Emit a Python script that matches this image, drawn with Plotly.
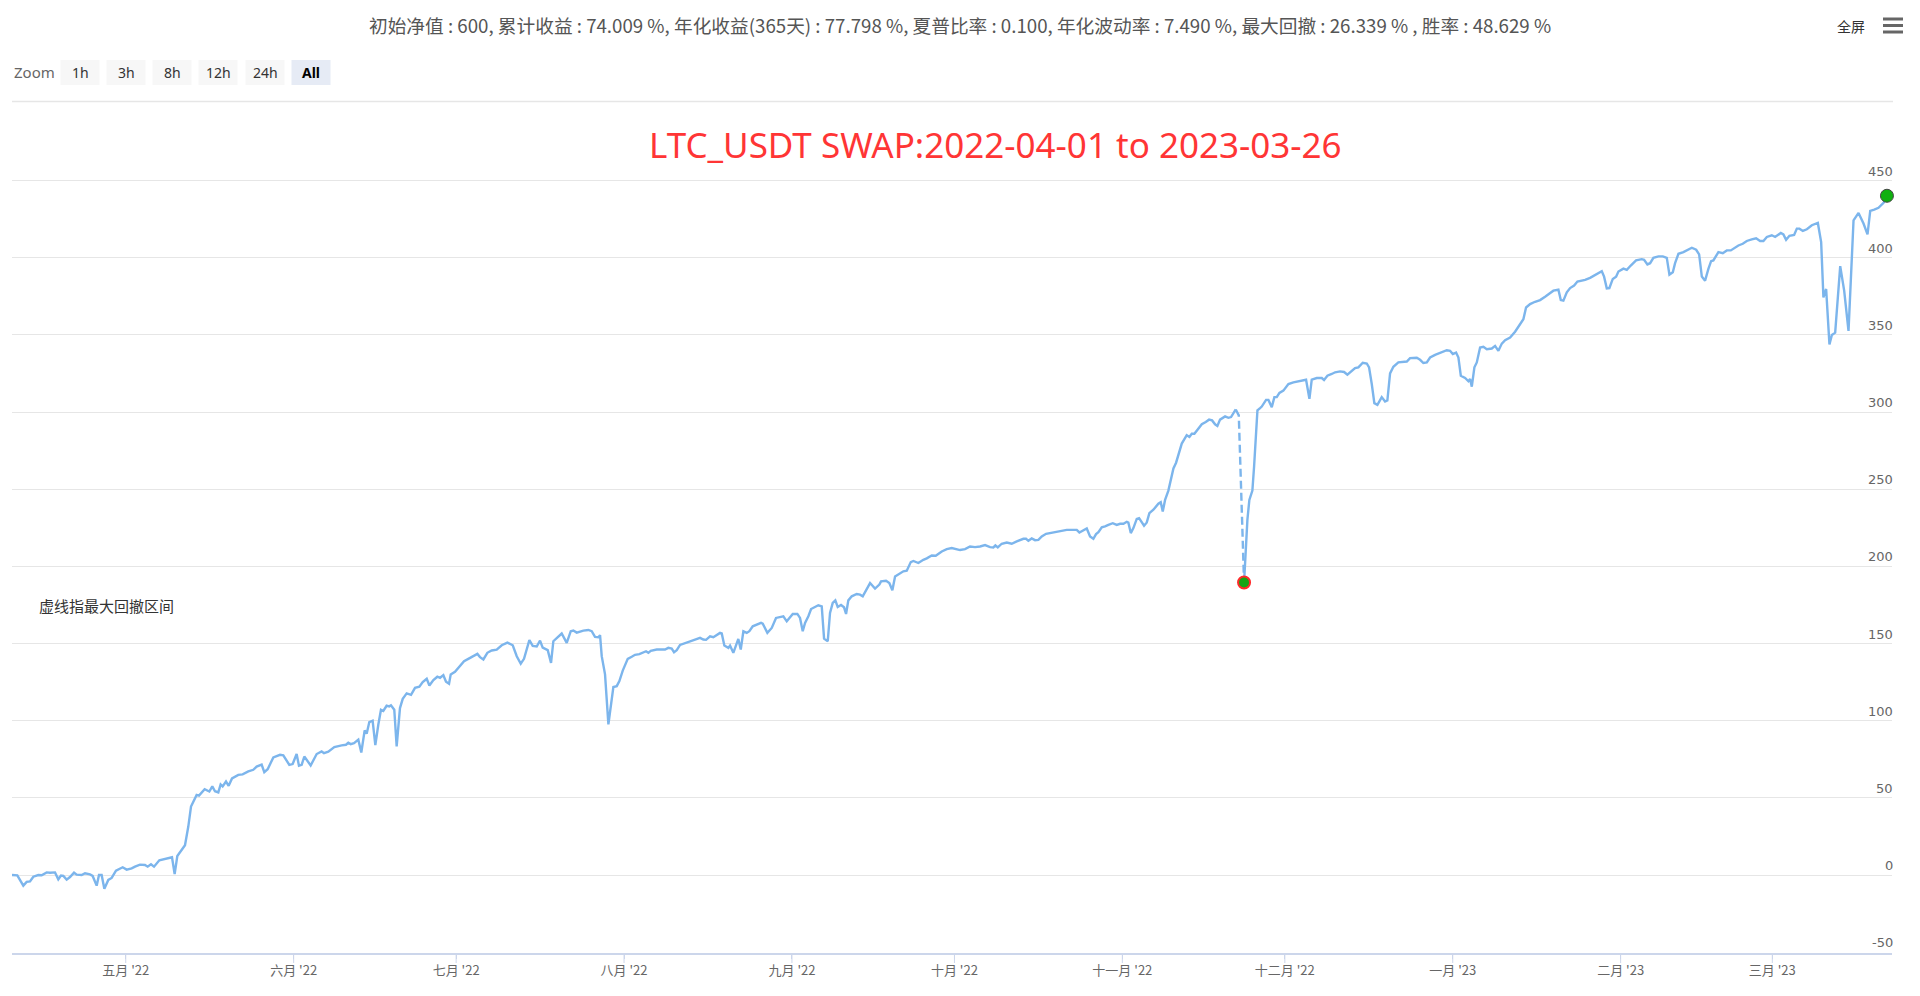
import numpy as np
import pandas as pd
import plotly.graph_objects as go

# ---------------- data ----------------
start_date = "2022-04-10"

day_offsets = [
    0.0, 0.98, 2.09, 2.71, 3.32, 3.94, 4.86, 5.48, 6.40, 7.02,
    7.94, 8.55, 9.05, 9.48, 10.09, 10.71, 11.45, 11.94, 12.86, 13.48,
    14.40, 14.89, 15.63, 16.06, 16.55, 17.05, 17.78, 18.40, 19.20, 20.43,
    21.17, 22.09, 22.71, 23.63, 24.55, 25.05, 25.66, 26.22, 27.20, 28.25,
    28.86, 29.54, 30.03, 30.52, 31.94, 32.55, 33.05, 34.09, 34.52, 35.57,
    36.43, 36.98, 37.48, 38.09, 38.52, 38.89, 39.51, 40.00, 40.62, 41.78,
    42.58, 43.63, 44.55, 45.17, 46.09, 46.58, 47.20, 48.25, 49.48, 50.09,
    51.20, 51.82, 52.55, 52.98, 53.48, 53.97, 55.14, 56.25, 57.17, 57.60,
    58.40, 59.51, 60.86, 61.66, 62.09, 62.52, 63.14, 63.94, 64.49, 65.11,
    65.48, 65.97, 66.58, 67.08, 67.63, 68.12, 68.55, 69.17, 69.66, 69.97,
    70.58, 71.02, 71.63,
    72.14, 72.87, 73.67, 74.41, 75.21, 75.83, 76.57, 77.06, 77.80, 78.53,
    79.03, 79.64, 80.13, 80.69, 81.00, 81.79, 82.47, 83.46, 84.25, 85.18,
    85.92, 86.41, 87.03, 87.76, 88.57, 89.49, 90.42, 91.46, 92.45, 93.19,
    93.93, 94.53, 95.52, 96.14, 96.88, 97.49, 97.98, 98.91, 99.52, 99.95,
    100.69, 101.49, 102.42, 103.16, 103.64, 104.26, 105.49, 106.41, 107.03, 107.64,
    108.26, 108.57, 108.88, 109.49, 110.11, 110.54, 111.03, 111.65, 112.14, 112.76,
    113.68, 114.42, 115.03, 115.83, 116.57, 117.06, 117.49, 117.93, 119.04, 120.57,
    121.18, 121.80, 122.23, 122.73, 123.34, 124.26, 124.87, 125.50, 126.11, 127.03,
    127.64, 128.14, 128.88, 129.49, 130.72, 131.04, 131.52, 132.26, 132.57, 133.18,
    134.10, 134.55, 135.03, 135.65, 136.14, 136.76, 137.37, 138.29,
    138.61, 139.46, 140.27, 141.06, 142.41, 143.04, 144.15, 145.00, 145.49, 145.99,
    146.42, 147.03, 147.53, 148.26, 148.87, 149.50, 149.93, 150.61, 151.03, 151.53,
    152.01, 152.45, 153.06, 153.62, 153.99, 154.41, 155.04, 155.96, 156.57, 157.07,
    157.68, 158.42, 159.34, 160.14, 160.45, 161.37, 161.98, 162.54, 163.04, 163.96,
    164.57, 165.20, 165.94, 166.42, 167.34, 168.26, 168.89, 169.81, 170.55, 171.66,
    172.58, 173.50, 174.43, 175.04, 175.96, 176.88, 177.81, 178.73, 179.65, 180.58,
    181.19, 181.56, 182.00, 182.73, 183.66, 184.58, 185.51, 186.73, 187.22, 187.65,
    188.27, 188.88, 189.50, 190.12, 190.92, 191.65, 192.58, 193.50, 194.74, 195.66,
    196.58, 197.07, 197.69, 198.43, 199.04, 199.65, 200.15, 200.58, 201.20, 201.81,
    202.42, 203.23, 203.97, 204.58, 205.20, 205.82, 206.11, 206.56, 207.04, 207.66,
    208.09,
    209.01, 209.51, 209.99, 210.73, 211.65, 212.09, 212.46, 212.89, 213.50, 214.43,
    214.92, 215.97, 216.89, 217.38, 217.82, 218.30, 218.74, 219.67, 220.40, 221.01,
    221.57, 222.12, 222.55, 223.04, 223.97, 224.58, 225.07, 225.94, 226.50, 227.47,
    227.84, 228.09, 228.45, 229.01, 229.32, 229.94, 230.43, 230.74, 231.54, 231.97,
    232.59, 233.07, 233.51, 234.00, 234.73, 235.66, 236.58, 237.50, 238.43, 238.92,
    239.54, 239.97, 240.90, 241.82, 242.24, 242.86, 243.66, 244.28, 245.20, 245.94,
    246.55, 247.18, 247.97, 248.58, 249.39, 250.13, 250.55, 251.05, 251.53, 252.09,
    252.89, 253.51, 253.93, 254.43, 255.04, 255.96, 256.89, 257.52, 258.12, 259.36,
    259.97, 260.58, 261.21, 261.82, 262.74, 263.66, 264.90, 265.51, 266.01, 266.62,
    267.05, 267.49, 268.28, 268.89, 269.20, 269.52, 270.00, 270.44, 271.05, 271.66,
    272.29, 273.21, 273.82, 274.43, 275.06, 275.67, 276.59, 277.51, 278.12,
    278.43, 279.04, 279.54, 280.28, 281.20, 282.13, 283.05, 283.97, 284.58, 285.51,
    285.95, 286.43, 287.06, 287.67, 288.41, 289.02, 289.83, 290.44, 291.36, 292.10,
    292.89, 293.52, 293.94, 294.44, 294.92, 295.55, 296.16, 296.59, 297.51, 298.14,
    298.87, 299.85, 300.90, 301.33, 301.94, 302.44, 303.05, 303.98, 304.79, 305.52,
    306.01, 306.63, 307.05, 307.67, 308.59, 309.22, 310.14, 310.94, 311.49, 311.99,
    312.59, 313.20, 313.70, 314.12, 315.05, 315.86, 316.60, 317.34, 317.82, 318.74,
    319.55, 320.29, 321.21, 322.01, 322.75, 323.36, 323.99, 324.91, 325.52, 326.57,
    327.05, 327.55, 328.16, 329.03, 329.53, 330.01, 330.64, 331.38, 332.30, 333.41,
    334.02, 334.44, 334.94, 335.55, 336.00, 336.61, 337.54, 338.27, 339.07, 340.00,
    340.92, 341.84, 342.58, 343.08, 343.82, 344.61, 345.54, 346.17,
]

profit = [
    0, -0.2, -6.9, -4.5, -4.1, -1.1, 0, -0.2, 1.7, 1.5,
    1.7, -2.8, -0.4, -0.6, -3.0, -1.3, 1.5, 0.2, 0, 1.1,
    0.4, -0.6, -6.9, 0, 0, -8.9, -3.2, -1.9, 2.8, 5.0,
    3.5, 4.3, 5.4, 6.7, 6.5, 5.4, 6.9, 5.4, 9.5, 10.4,
    11.3, 11.5, 0.6, 12.3, 19.3, 31.4, 44.4, 51.9, 51.5, 55.6,
    54.1, 57.4, 54.3, 53.5, 58.7, 57.4, 60.6, 57.8, 62.6, 64.9,
    65.2, 67.1, 68.2, 70.3, 71.6, 66.7, 68.6, 76.2, 77.9, 77.5,
    71.4, 71.9, 78.4, 70.8, 71.4, 76.8, 71.0, 78.4, 80.1, 79.0,
    79.9, 82.9, 84.0, 84.4, 85.7, 84.8, 85.5, 87.7, 79.4, 93.7,
    91.6, 99.1, 100.0, 84.2, 97.4, 107.1, 106.3, 109.7, 109.3, 110.0,
    107.1, 83.3, 108.2,
    114.2, 117.7, 116.8, 121.3, 122.0, 125.0, 127.2, 122.8, 126.3, 128.5,
    127.8, 129.5, 125.2, 123.9, 130.0, 131.7, 134.3, 138.6, 140.1, 141.8,
    143.3, 141.2, 139.7, 144.0, 145.5, 146.1, 148.9, 150.6, 148.9, 141.8,
    136.9, 140.1, 152.2, 148.5, 148.1, 151.9, 147.4, 145.7, 137.5, 151.5,
    154.1, 156.5, 150.4, 158.0, 158.4, 157.1, 158.4, 158.8, 158.0, 154.3,
    154.1, 155.4, 141.8, 130.0, 97.6, 109.5, 121.8, 122.4, 125.7, 132.5,
    140.1, 141.4, 142.7, 143.1, 144.0, 145.0, 144.0, 145.3, 146.1, 146.1,
    147.2, 146.8, 144.4, 145.7, 149.1, 150.4, 150.9, 151.7, 152.6, 153.7,
    152.6, 152.4, 154.7, 154.1, 156.9, 156.5, 148.7, 147.2, 148.7, 144.0,
    153.0, 146.1, 158.0, 156.9, 158.0, 161.2, 162.1, 163.4,
    162.9, 156.9, 160.1, 166.6, 167.7, 164.4, 169.2, 169.2, 166.6, 158.0,
    163.4, 167.7, 172.4, 173.5, 174.8, 174.1, 153.2, 151.5, 169.8, 176.3,
    178.0, 173.7, 175.0, 173.5, 169.2, 178.0, 180.6, 182.1, 181.7, 180.6,
    184.9, 189.2, 185.6, 188.2, 190.3, 190.7, 189.2, 184.5, 193.5, 195.3,
    196.8, 197.2, 202.8, 203.5, 202.2, 204.3, 205.2, 207.1, 206.9, 209.7,
    211.2, 211.9, 211.4, 210.6, 211.2, 212.9, 212.5, 212.9, 213.8, 212.5,
    212.3, 213.6, 212.3, 214.7, 215.5, 214.7, 216.2, 217.9, 217.9, 216.6,
    218.1, 217.0, 217.2, 219.4, 221.1, 221.6, 222.2, 222.6, 223.7, 223.7,
    223.7, 222.0, 223.3, 224.6, 219.4, 217.9, 220.9, 222.2, 225.4, 225.9,
    226.9, 228.0, 226.9, 227.6, 227.6, 228.9, 228.4, 221.6, 224.8, 230.8,
    231.3,
    226.4, 228.5, 234.5, 236.7, 240.6, 241.6, 235.6, 243.1, 249.1, 263.5,
    267.2, 279.6, 285.0, 283.9, 286.0, 286.0, 288.2, 292.1, 293.6, 295.1,
    294.6, 292.1, 291.0, 295.1, 297.2, 296.3, 296.8, 301.7, 297.9, 189.6,
    217.4, 230.3, 243.1, 249.1, 264.6, 301.1, 302.6, 303.6, 307.9, 307.9,
    303.2, 309.7, 309.7, 312.4, 313.9, 318.2, 319.3, 320.0, 320.4, 321.0,
    308.6, 321.0, 322.1, 322.1, 320.8, 323.6, 324.7, 325.8, 326.4, 326.0,
    324.2, 326.4, 328.5, 329.0, 332.0, 331.5, 329.0, 318.2, 305.8, 304.7,
    309.7, 306.9, 307.5, 325.1, 329.4, 332.2, 332.8, 332.8, 335.0, 335.2,
    333.9, 331.8, 332.2, 335.4, 337.1, 338.6, 340.1, 339.7, 337.6, 338.6,
    335.4, 323.6, 322.1, 320.0, 321.5, 316.5, 329.0, 332.2, 341.8, 342.3,
    340.8, 341.2, 342.9, 339.7, 344.4, 346.6, 348.3, 352.1, 355.2,
    356.5, 360.2, 367.8, 370.0, 371.5, 372.6, 374.8, 377.0, 378.7, 379.3,
    372.6, 372.2, 377.6, 380.4, 382.0, 384.6, 385.2, 385.7, 387.0, 388.5,
    390.0, 391.3, 387.8, 380.2, 380.4, 386.3, 387.8, 391.1, 393.0, 392.2,
    395.0, 398.3, 399.1, 398.7, 395.7, 396.5, 400.0, 400.9, 400.9, 400.0,
    389.1, 390.6, 396.5, 402.6, 403.7, 404.8, 406.5, 405.2, 402.2, 387.8,
    385.2, 392.8, 397.8, 398.3, 403.7, 403.0, 404.8, 404.8, 405.9, 408.0,
    409.1, 410.9, 412.0, 412.6, 410.9, 410.9, 413.5, 414.6, 413.5, 416.1,
    415.2, 411.7, 414.3, 414.8, 418.9, 418.9, 417.4, 418.5, 421.1, 422.6,
    410.2, 374.3, 379.8, 343.9, 350.0, 351.5, 394.6, 378.7, 352.6, 424.3,
    429.1, 422.2, 415.2, 430.4, 431.3, 432.4, 435.7, 440.2,
]

month_ticks = ["2022-05-01", "2022-06-01", "2022-07-01", "2022-08-01", "2022-09-01",
               "2022-10-01", "2022-11-01", "2022-12-01", "2023-01-01", "2023-02-01",
               "2023-03-01"]
month_labels = ["五月 '22", "六月 '22", "七月 '22", "八月 '22", "九月 '22", "十月 '22",
                "十一月 '22", "十二月 '22", "一月 '23", "二月 '23", "三月 '23"]
y_ticks = [-50, 0, 50, 100, 150, 200, 250, 300, 350, 400, 450]

stats_text = ("初始净值 : 600, 累计收益 : 74.009 %, 年化收益(365天) : 77.798 %, "
              "夏普比率 : 0.100, 年化波动率 : 7.490 %, 最大回撤 : 26.339 % , 胜率 : 48.629 %")
title_text = "LTC_USDT SWAP:2022-04-01 to 2023-03-26"
note_text = "虚线指最大回撤区间"
zoom_buttons = ["1h", "3h", "8h", "12h", "24h", "All"]
selected_button = "All"

# ---------------- derived ----------------
dates = pd.Timestamp(start_date) + pd.to_timedelta(day_offsets, unit="D")
vals = np.array(profit, dtype=float)
run_max = np.maximum.accumulate(vals)
trough = int(np.argmax(run_max - vals))
peak = int(np.argmax(vals[:trough + 1]))

# layout geometry (pixels)
W, H = 1920, 996
PL, PR, PT, PB = 12, 1892, 179, 953
x_range = [pd.Timestamp(start_date), pd.Timestamp(start_date) + pd.Timedelta(days=347.1)]
y_range = [-50.55, 451.07]


def px(x):
    return (x - PL) / (PR - PL)


def py(y):
    return (PB - y) / (PB - PT)


LINE = "#7cb5ec"
LW = 2.4
fig = go.Figure()
fig.add_trace(go.Scatter(x=dates[:peak + 1], y=vals[:peak + 1], mode="lines",
                         line=dict(color=LINE, width=LW), hoverinfo="skip"))
fig.add_trace(go.Scatter(x=dates[peak:trough + 1], y=vals[peak:trough + 1], mode="lines",
                         line=dict(color=LINE, width=LW, dash="8px,4px"), hoverinfo="skip"))
fig.add_trace(go.Scatter(x=dates[trough:], y=vals[trough:], mode="lines",
                         line=dict(color=LINE, width=LW), hoverinfo="skip"))
fig.add_trace(go.Scatter(x=[dates[trough]], y=[vals[trough]], mode="markers",
                         marker=dict(size=12, color="#14a514", line=dict(color="#ff2a2a", width=2)),
                         cliponaxis=False, hoverinfo="skip"))
fig.add_trace(go.Scatter(x=[dates[-1]], y=[vals[-1]], mode="markers",
                         marker=dict(size=13, color="#10b010", line=dict(color="#444444", width=1)),
                         cliponaxis=False, hoverinfo="skip"))

annotations = []
for t in y_ticks:
    annotations.append(dict(x=1, xref="paper", y=t, yref="y", text=str(t), showarrow=False,
                            xanchor="right", yanchor="bottom", xshift=3, yshift=0,
                            font=dict(family="DejaVu Sans", size=13, color="#666666")))
annotations.append(dict(x=px(960), y=py(25), xref="paper", yref="paper", text=stats_text,
                        showarrow=False, xanchor="center", yanchor="middle",
                        font=dict(family="Noto Sans CJK SC", size=18.7, color="#555555")))
annotations.append(dict(x=px(995.5), y=py(144.5), xref="paper", yref="paper", text=title_text,
                        showarrow=False, xanchor="center", yanchor="middle",
                        font=dict(family="Noto Sans", size=35, color="#ff3535")))
annotations.append(dict(x=px(37), y=py(605), xref="paper", yref="paper", text=note_text,
                        showarrow=False, xanchor="left", yanchor="middle",
                        font=dict(family="Noto Sans CJK SC", size=15, color="#333333")))
annotations.append(dict(x=px(12), y=py(72.5), xref="paper", yref="paper", text="Zoom",
                        showarrow=False, xanchor="left", yanchor="middle",
                        font=dict(family="Noto Sans", size=15, color="#666666")))
annotations.append(dict(x=px(1851), y=py(26), xref="paper", yref="paper", text="全屏",
                        showarrow=False, xanchor="center", yanchor="middle",
                        font=dict(family="Noto Sans CJK SC", size=14, color="#333333")))

shapes = []
btn_centers = [80, 126, 172, 218, 265, 311]
for label, cx in zip(zoom_buttons, btn_centers):
    sel = label == selected_button
    shapes.append(dict(type="rect", xref="paper", yref="paper",
                       x0=px(cx - 19.5), x1=px(cx + 19.5), y0=py(85), y1=py(60),
                       fillcolor="#e6ebf5" if sel else "#f7f7f7", line=dict(width=0), layer="below"))
    annotations.append(dict(x=px(cx), y=py(72.5), xref="paper", yref="paper",
                            text="<b>%s</b>" % label if sel else label,
                            showarrow=False, xanchor="center", yanchor="middle",
                            font=dict(family="Noto Sans", size=14,
                                      color="#000000" if sel else "#333333")))
shapes.append(dict(type="line", xref="paper", yref="paper", x0=px(12), x1=px(1893),
                   y0=py(101.6), y1=py(101.6), line=dict(color="#e6e6e6", width=1.5)))
for yy in [19, 25.5, 32]:
    shapes.append(dict(type="line", xref="paper", yref="paper", x0=px(1883), x1=px(1903),
                       y0=py(yy), y1=py(yy), line=dict(color="#666666", width=3)))
# month tick marks (10 px long) below the axis line
for m in month_ticks:
    shapes.append(dict(type="line", xref="x", yref="paper", x0=m, x1=m,
                       y0=0, y1=-10 / (PB - PT), line=dict(color="#ccd6eb", width=1)))

fig.update_layout(
    width=W, height=H,
    margin=dict(l=PL, r=W - PR, t=PT, b=H - PB, pad=0),
    paper_bgcolor="white", plot_bgcolor="white",
    showlegend=False,
    annotations=annotations, shapes=shapes,
    xaxis=dict(type="date", range=x_range, tickvals=month_ticks, ticktext=month_labels,
               ticks="outside", ticklen=4, tickcolor="#ccd6eb", tickwidth=1,
               showline=True, linecolor="#ccd6eb", linewidth=2, showgrid=False, zeroline=False,
               tickfont=dict(family="Noto Sans CJK SC", size=13, color="#666666"),
               fixedrange=True),
    yaxis=dict(range=y_range, tickvals=y_ticks, showticklabels=False, showgrid=True,
               gridcolor="#e6e6e6", gridwidth=1, zeroline=False, showline=False,
               fixedrange=True),
)

fig.write_html("out.html", config={"displayModeBar": False},
               post_script="document.body.style.margin='0px';document.body.style.overflow='hidden';")
